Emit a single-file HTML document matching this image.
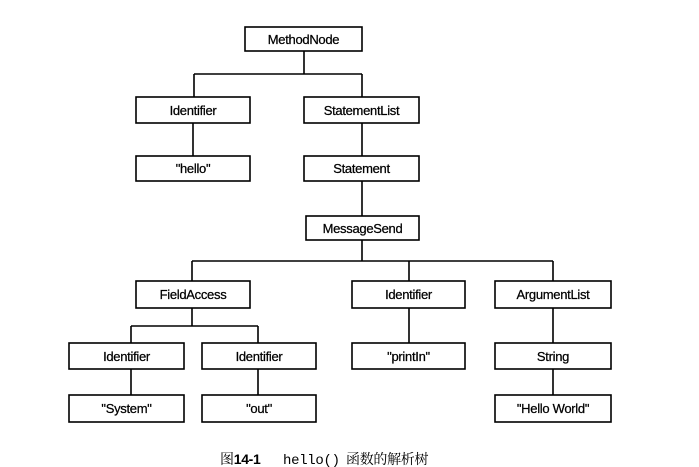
<!DOCTYPE html>
<html><head><meta charset="utf-8"><style>
html,body{margin:0;padding:0;background:#fff;}
svg{display:block;}
text{font-family:"Liberation Sans",Arial,sans-serif;font-size:13px;fill:#000;stroke:#000;stroke-width:0.25;letter-spacing:-0.3px;}
.cap{font-family:"Liberation Serif","Noto Serif CJK SC",serif;font-size:14px;stroke-width:0;}
.mono{font-family:"Liberation Mono",monospace;font-size:14px;stroke-width:0;}
</style></head><body>
<svg width="699" height="467" viewBox="0 0 699 467" xmlns="http://www.w3.org/2000/svg">
<g fill="none" stroke="#000" stroke-width="1.6">
<path d="M304 51V74M194 74H362M194 74V97M362 74V97"/>
<path d="M193 123V156M362 123V156M362 181V216M362 240V261M192 261H553M192 261V281M409 261V281M553 261V281"/>
<path d="M192 308V326M131 326H258M131 326V343M258 326V343"/>
<path d="M131 369V395M258 369V395M409 308V343M553 308V343M553 369V395"/>
<rect x="245" y="27" width="117" height="24"/>
<rect x="136" y="97" width="114" height="26"/>
<rect x="304" y="97" width="115" height="26"/>
<rect x="136" y="156" width="114" height="25"/>
<rect x="304" y="156" width="115" height="25"/>
<rect x="306" y="216" width="113" height="24"/>
<rect x="136" y="281" width="114" height="27"/>
<rect x="352" y="281" width="113" height="27"/>
<rect x="495" y="281" width="116" height="27"/>
<rect x="69" y="343" width="115" height="26"/>
<rect x="202" y="343" width="114" height="26"/>
<rect x="352" y="343" width="113" height="26"/>
<rect x="495" y="343" width="116" height="26"/>
<rect x="69" y="395" width="115" height="27"/>
<rect x="202" y="395" width="114" height="27"/>
<rect x="495" y="395" width="116" height="27"/>
</g>
<g text-anchor="middle">
<text x="303.5" y="44">MethodNode</text>
<text x="193" y="115">Identifier</text>
<text x="361.5" y="115">StatementList</text>
<text x="193" y="173">"hello"</text>
<text x="361.5" y="173">Statement</text>
<text x="362.5" y="233">MessageSend</text>
<text x="193" y="299">FieldAccess</text>
<text x="408.5" y="299">Identifier</text>
<text x="553" y="299">ArgumentList</text>
<text x="126.5" y="361">Identifier</text>
<text x="259" y="361">Identifier</text>
<text x="408.5" y="361">"printIn"</text>
<text x="553" y="361">String</text>
<text x="126.5" y="413">"System"</text>
<text x="259" y="413">"out"</text>
<text x="553" y="413">"Hello World"</text>
</g>
<text class="cap" x="220" y="464">图<tspan font-family="Liberation Sans" font-weight="bold">14-1</tspan></text>
<text class="mono" x="283" y="464">hello()</text>
<text class="cap" x="346" y="464">函数的解析树</text>
</svg>
</body></html>
